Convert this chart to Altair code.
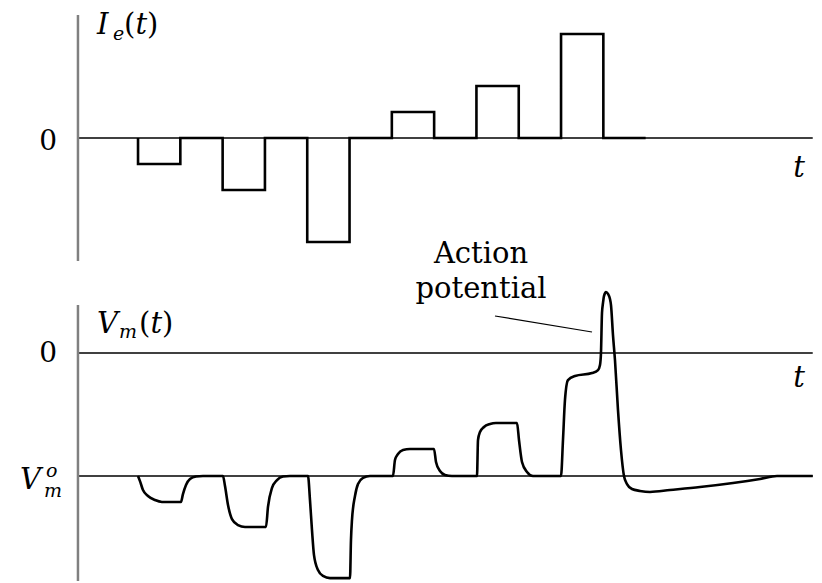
import altair as alt
import pandas as pd

# ---------------- data ----------------
# Injected current I_e(t): knots of a step-after line (time units, current units)
i_t = [1.5, 1.5, 2.5, 3.5, 4.5, 5.5, 6.5, 7.5, 8.5, 9.5, 10.5, 11.5, 12.5, 13.5]
i_val = [0, -1, 0, -2, 0, -4, 0, 1, 0, 2, 0, 4, 0, 0]

# Membrane potential V_m(t) (mV-like units, rest = -70)
v_t = [1.499, 1.546, 1.617, 1.735, 1.901, 2.066, 2.515, 2.562, 2.634, 2.728, 2.870, 3.035,
       3.508, 3.556, 3.627, 3.721, 3.863, 4.029, 4.525, 4.572, 4.667, 4.785, 4.927, 5.092,
       5.518, 5.565, 5.612, 5.660, 5.754, 5.872, 6.038, 6.511, 6.534, 6.558, 6.629, 6.700, 6.818, 6.983,
       7.527, 7.574, 7.645, 7.764, 7.929, 8.496, 8.544, 8.638, 8.757, 8.922,
       9.513, 9.537, 9.584, 9.678, 9.820, 9.962, 10.459, 10.506, 10.577, 10.695, 10.837,
       11.499, 11.546, 11.593, 11.664, 11.830, 12.232, 12.374, 12.421, 12.444, 12.468, 12.492,
       12.515, 12.563, 12.610, 12.657, 12.681, 12.728, 12.775, 12.846, 12.917, 12.988, 13.059,
       13.177, 13.366, 13.603, 14.076, 14.785, 15.565, 16.203, 16.605, 17.45]
v_val = [-70, -72.9, -78.0, -81.4, -83.7, -84.8, -84.8, -80.3, -75.1, -71.7, -70.3, -70,
         -70, -75.7, -86.5, -94.5, -97.9, -99.0, -99.0, -87.6, -76.8, -72.3, -70.3, -70,
         -70, -83.7, -100.7, -115.0, -123.5, -126.9, -128.1, -128.1, -106.4, -95.0, -81.4, -74.6, -71.1, -70,
         -70, -60.9, -57.5, -55.2, -54.6, -54.6, -62.0, -67.2, -69.4, -70,
         -70, -49.5, -45.0, -42.1, -40.4, -39.8, -39.8, -49.5, -62.0, -67.7, -70,
         -70, -49.5, -26.7, -15.4, -13.1, -11.4, -9.7, -6.8, 0, 22.8, 28.5,
         32.4, 34.7, 33.6, 30.7, 27.3, 10.2, -4.0, -32.4, -55.2, -70, -74.6,
         -77.4, -78.5, -79.1, -78.0, -76.3, -74.0, -71.7, -70, -70]

V_REST = -70

# Text labels: top panel
top_text = ["0", "I", "e", "(", "t", ")", "t"]
top_lt = [-0.416, 0.530, 0.908, 1.168, 1.440, 1.712, 17.125]
top_lv = [-0.46, 4.0, 3.77, 4.0, 4.0, 4.0, -1.5]
top_size = [28, 29, 19, 29, 29, 29, 29]
top_style = ["normal", "italic", "italic", "normal", "italic", "normal", "italic"]
top_align = ["right", "left", "left", "left", "left", "left", "center"]

# Text labels: bottom panel
bot_text = ["0", "V", "m", "(", "t", ")", "V", "o", "m", "t", "Action", "potential"]
bot_lt = [-0.416, 0.530, 1.050, 1.522, 1.794, 2.066, -1.291, -0.676, -0.723, 17.125, 9.608, 9.608]
bot_lv = [-5.1, 11.4, 8.5, 11.4, 11.4, 11.4, -77.4, -70.6, -82.0, -19.4, 51.2, 31.3]
bot_size = [28, 29, 19, 29, 29, 29, 29, 19, 19, 29, 29, 29]
bot_style = ["normal", "italic", "italic", "normal", "italic", "normal", "italic", "italic", "italic",
             "italic", "normal", "normal"]
bot_align = ["right", "left", "left", "left", "left", "left", "left", "left", "left", "center",
             "center", "center"]

# pointer from the "Action potential" label to the spike
ptr_t = [9.939]
ptr_t2 = [12.232]
ptr_v = [21.06]
ptr_v2 = [11.95]

# ---------------- scales ----------------
T_AXIS, T_END = 0.08, 17.45
V_LOW = -129.76
xs = alt.Scale(domain=[-1.574, 17.48], nice=False, zero=False)
ys_top = alt.Scale(domain=[-5.077, 5.0], nice=False, zero=False)
ys_bot = alt.Scale(domain=[V_LOW, 47.24], nice=False, zero=False)
FONT = "DejaVu Serif"


def X(f="t"):
    return alt.X(f"{f}:Q", scale=xs, axis=None)


def text_layers(df, yfield, yscale):
    layers = []
    for (align, style), sub in df.groupby(["align", "style"]):
        layers.append(
            alt.Chart(sub).mark_text(align=align, baseline="alphabetic", font=FONT,
                                     fontStyle=style, color="black")
            .encode(x=X(), y=alt.Y(f"{yfield}:Q", scale=yscale, axis=None),
                    text="text:N", size=alt.Size("size:Q", scale=None, legend=None))
        )
    return layers


# ---------------- top panel ----------------
i_df = pd.DataFrame({"t": i_t, "I": i_val, "k": range(len(i_t))})
top_zero = alt.Chart(pd.DataFrame({"t": [T_AXIS], "t2": [T_END], "I": [0]})).mark_rule(
    color="black", strokeWidth=1.3).encode(x=X(), x2="t2:Q", y=alt.Y("I:Q", scale=ys_top, axis=None))
top_axis = alt.Chart(pd.DataFrame({"t": [T_AXIS], "I": [4.73], "I2": [-4.73]})).mark_rule(
    color="#808080", strokeWidth=2.5).encode(x=X(), y=alt.Y("I:Q", scale=ys_top, axis=None), y2="I2:Q")
top_step = alt.Chart(i_df).mark_line(color="black", strokeWidth=2.6, interpolate="step-after").encode(
    x=X(), y=alt.Y("I:Q", scale=ys_top, axis=None), order="k:Q")
top_lab = pd.DataFrame({"t": top_lt, "I": top_lv, "text": top_text, "size": top_size,
                        "style": top_style, "align": top_align})
top = alt.layer(top_zero, top_axis, top_step, *text_layers(top_lab, "I", ys_top)).properties(
    width=806, height=262)

# ---------------- bottom panel ----------------
v_df = pd.DataFrame({"t": v_t, "V": v_val, "k": range(len(v_t))})
hl = pd.DataFrame({"t": [T_AXIS, T_AXIS], "t2": [T_END, T_END], "V": [0, V_REST]})
bot_lines = alt.Chart(hl).mark_rule(color="black", strokeWidth=1.3).encode(
    x=X(), x2="t2:Q", y=alt.Y("V:Q", scale=ys_bot, axis=None))
bot_axis = alt.Chart(pd.DataFrame({"t": [T_AXIS], "V": [27.3], "V2": [V_LOW]})).mark_rule(
    color="#808080", strokeWidth=2.5).encode(x=X(), y=alt.Y("V:Q", scale=ys_bot, axis=None), y2="V2:Q")
ptr = alt.Chart(pd.DataFrame({"t": ptr_t, "t2": ptr_t2, "V": ptr_v, "V2": ptr_v2})).mark_rule(
    color="black", strokeWidth=1.2).encode(x=X(), x2="t2:Q", y=alt.Y("V:Q", scale=ys_bot, axis=None),
                                            y2="V2:Q")
vm = alt.Chart(v_df).mark_line(color="black", strokeWidth=2.6, interpolate="monotone", clip=True).encode(
    x=X(), y=alt.Y("V:Q", scale=ys_bot, axis=None), order="k:Q")
bot_lab = pd.DataFrame({"t": bot_lt, "V": bot_lv, "text": bot_text, "size": bot_size,
                        "style": bot_style, "align": bot_align})
bottom = alt.layer(bot_lines, bot_axis, ptr, vm, *text_layers(bot_lab, "V", ys_bot)).properties(
    width=806, height=311)

chart = (alt.vconcat(top, bottom, spacing=0, bounds="flush")
         .resolve_scale(y="independent")
         .properties(padding=0)
         .configure_view(stroke=None))

chart.save("out.html", embed_options={"renderer": "svg", "actions": False})
